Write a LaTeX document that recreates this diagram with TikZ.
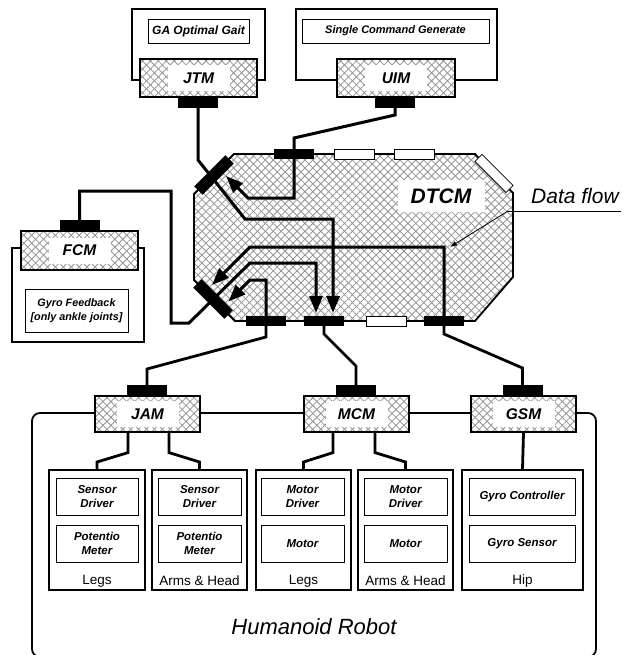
\documentclass[tikz,border=0pt]{standalone}
\usepackage{fontspec}
\setmainfont{Liberation Sans}
\usetikzlibrary{patterns.meta,arrows.meta}
\tikzset{
  hatchbox/.style={draw, line width=1.2pt, inner sep=0pt,
    preaction={fill=white},
    preaction={pattern={Lines[angle=45,distance=5.6pt,line width=0.8pt]}, pattern color=black!42},
    preaction={pattern={Lines[angle=-45,distance=5.6pt,line width=0.8pt]}, pattern color=black!42}},
  modlabel/.style={fill=white, inner sep=0pt, minimum width=62pt, minimum height=26pt,
    font=\fontsize{15.5pt}{18pt}\selectfont\bfseries\itshape},
  outerbox/.style={draw, line width=1.8pt, inner sep=0pt},
  innerbox/.style={draw, line width=0.9pt, inner sep=0pt, align=center,
    font=\fontsize{11.5pt}{14.5pt}\selectfont\bfseries\itshape},
  partbox/.style={draw, line width=1.8pt, inner sep=0pt, minimum height=120pt},
  conn/.style={fill=black, inner sep=0pt, minimum width=40pt, minimum height=11pt},
  wconn/.style={draw, line width=0.8pt, fill=white, inner sep=0pt, minimum width=40pt, minimum height=10pt},
  wire/.style={line width=2.8pt},
  flow/.style={line width=3pt, -{Triangle[length=17pt,width=13pt]}},
  partlabel/.style={font=\fontsize{13.5pt}{15pt}\selectfont},
}
\begin{document}
\begin{tikzpicture}[x=1pt,y=-1pt]
\useasboundingbox (0,0) rectangle (623,655);

% ---------- Humanoid robot frame ----------
\node[outerbox, rounded corners=8pt, minimum width=564pt, minimum height=244pt] (robot) at (314,535) {};
\node[font=\fontsize{22pt}{26pt}\selectfont\itshape] (robotlbl) at (314,627) {Humanoid Robot};

% ---------- JTM ----------
\node[outerbox, minimum width=133pt, minimum height=71pt] (JTMo) at (198.5,44.5) {};
\node[innerbox, minimum width=101pt, minimum height=24pt, font=\fontsize{12pt}{14pt}\selectfont\bfseries\itshape] (JTMi) at (198.5,31) {GA Optimal Gait};
\node[hatchbox, minimum width=117pt, minimum height=38pt] (JTM) at (198.5,78) {};
\node[modlabel] (JTMl) at (JTM) {JTM};
\node[conn] (cJTM) at (198,102.5) {};

% ---------- UIM ----------
\node[outerbox, minimum width=201pt, minimum height=71pt] (UIMo) at (396.5,44.5) {};
\node[innerbox, minimum width=187pt, minimum height=24pt, font=\fontsize{11pt}{12pt}\selectfont\bfseries\itshape] (UIMi) at (395.5,31) {Single Command Generate};
\node[hatchbox, minimum width=118pt, minimum height=38pt] (UIM) at (396,78) {};
\node[modlabel] (UIMl) at (UIM) {UIM};
\node[conn] (cUIM) at (395,102.5) {};

% ---------- FCM ----------
\node[outerbox, minimum width=132pt, minimum height=94pt] (FCMo) at (78,295) {};
\node[hatchbox, minimum width=117pt, minimum height=39pt] (FCM) at (79.5,250.5) {};
\node[modlabel] (FCMl) at (FCM) {FCM};
\node[innerbox, minimum width=103pt, minimum height=43pt, font=\fontsize{10.8pt}{14pt}\selectfont\bfseries\itshape] (FCMi) at (76.5,310.5) {Gyro Feedback\\{}[only ankle joints]};
\node[conn] (cFCM) at (79.5,225.5) {};

% ---------- DTCM ----------
\draw[hatchbox, line width=1.8pt] (234,154) -- (475,154) -- (513,193) -- (513,277) -- (475,321)
  -- (235,321) -- (194,280) -- (194,194) -- cycle;
\node[modlabel, minimum width=87pt, minimum height=32pt, font=\fontsize{21pt}{24pt}\selectfont\bfseries\itshape] (dtcm) at (441,196) {DTCM};

\node[conn, minimum height=10pt] (cTop) at (294,154) {};
\node[wconn] (wTop1) at (354,154) {};
\node[wconn] (wTop2) at (414,154) {};
\node[wconn, rotate=-45, minimum width=44pt] (wUR) at (494,173.5) {};
\node[conn, rotate=45, minimum width=44pt, minimum height=12pt] (cUL) at (214,175) {};
\node[conn, rotate=-45, minimum width=44pt, minimum height=12pt] (cLL) at (213,299) {};
\node[conn, minimum height=10pt] (cBL) at (266,321) {};
\node[conn, minimum height=10pt] (cBM) at (324,321) {};
\node[wconn] (wBot) at (386.5,321) {};
\node[conn, minimum height=10pt] (cBR) at (444,321) {};

% ---------- data flows ----------
\coordinate (tipUL) at (226,176);
\coordinate (tipMa) at (316,313);
\coordinate (tipMb) at (333,313);
\coordinate (tipLa) at (212,285);
\coordinate (tipLc) at (228.5,301.5);

\draw[flow] (cUIM.south) -- (395,115) -- (294,138) -- (cTop.center) -- (294,198) -- (248,198) -- (tipUL);
\draw[flow] (cJTM.south) -- (198,160) -- (245,219) -- (333,219) -- (tipMb);
\draw[flow] (cFCM.north) -- (79.5,191) -- (171,191) -- (171,323) -- (189,323) -- (250,263) -- (316,263) -- (tipMa);
\draw[flow] (cBR.center) -- (444,247) -- (250,247) -- (tipLa);
\draw[flow] (cBL.center) -- (266,280) -- (250,280) -- (tipLc);

% ---------- Data flow label ----------
\node[font=\fontsize{21pt}{24pt}\selectfont\itshape] (dflbl) at (575,196) {Data flow};
\coordinate (dfl) at (508,211);
\coordinate (dfr) at (621,211);
\coordinate (dftip) at (450,247);
\draw[line width=0.8pt] (dfl) -- (dfr);
\draw[line width=0.8pt, -{Latex[length=7pt,width=5pt]}] (dfl) -- (dftip);

% ---------- lower modules ----------
\node[hatchbox, minimum width=105pt, minimum height=36pt] (JAM) at (147.5,414) {};
\node[modlabel] (JAMl) at (JAM) {JAM};
\node[conn] (cJAM) at (147,390.5) {};
\node[hatchbox, minimum width=105pt, minimum height=36pt] (MCM) at (356.5,414) {};
\node[modlabel] (MCMl) at (MCM) {MCM};
\node[conn] (cMCM) at (356,390.5) {};
\node[hatchbox, minimum width=105pt, minimum height=36pt] (GSM) at (523.5,414) {};
\node[modlabel] (GSMl) at (GSM) {GSM};
\node[conn] (cGSM) at (522.5,390.5) {};

\draw[wire] (cBL.south) -- (266,337) -- (147,369) -- (cJAM.north);
\draw[wire] (cBM.south) -- (324,334) -- (356,366) -- (cMCM.north);
\draw[wire] (cBR.south) -- (444,334) -- (522.5,368) -- (cGSM.north);

% ---------- part boxes ----------
\node[partbox, minimum width=96pt] (B1) at (97,530) {};
\node[partbox, minimum width=95pt] (B2) at (199.5,530) {};
\node[partbox, minimum width=95pt] (B3) at (303.5,530) {};
\node[partbox, minimum width=95pt] (B4) at (405.5,530) {};
\node[partbox, minimum width=121pt] (B5) at (522.5,530) {};

\node[innerbox, minimum width=82pt, minimum height=37pt] (B1a) at (97,496.5) {Sensor\\Driver};
\node[innerbox, minimum width=82pt, minimum height=37pt] (B1b) at (97,543.5) {Potentio\\Meter};
\node[innerbox, minimum width=83pt, minimum height=37pt] (B2a) at (199.5,496.5) {Sensor\\Driver};
\node[innerbox, minimum width=83pt, minimum height=37pt] (B2b) at (199.5,543.5) {Potentio\\Meter};
\node[innerbox, minimum width=83pt, minimum height=37pt] (B3a) at (302.5,496.5) {Motor\\Driver};
\node[innerbox, minimum width=83pt, minimum height=37pt] (B3b) at (302.5,543.5) {Motor};
\node[innerbox, minimum width=83pt, minimum height=37pt] (B4a) at (405.5,496.5) {Motor\\Driver};
\node[innerbox, minimum width=83pt, minimum height=37pt] (B4b) at (405.5,543.5) {Motor};
\node[innerbox, minimum width=106pt, minimum height=37pt] (B5a) at (522,496.5) {Gyro Controller};
\node[innerbox, minimum width=106pt, minimum height=37pt] (B5b) at (522,543.5) {Gyro Sensor};

\node[partlabel] (L1) at (97,581) {Legs};
\node[partlabel] (L2) at (199.5,581) {Arms \& Head};
\node[partlabel] (L3) at (303.5,581) {Legs};
\node[partlabel] (L4) at (405.5,581) {Arms \& Head};
\node[partlabel] (L5) at (522.5,581) {Hip};

\draw[wire] ([xshift=-19.5pt]JAM.south) -- ++(0,20) -- (97,462) -- (B1.north);
\draw[wire] ([xshift=21.5pt]JAM.south) -- ++(0,20) -- (199.5,462) -- (B2.north);
\draw[wire] ([xshift=-23.5pt]MCM.south) -- ++(0,20) -- (303.5,462) -- (B3.north);
\draw[wire] ([xshift=18.5pt]MCM.south) -- ++(0,20) -- (405.5,462) -- (B4.north);
\draw[wire] (GSM.south) -- (B5.north);
\end{tikzpicture}
\end{document}
